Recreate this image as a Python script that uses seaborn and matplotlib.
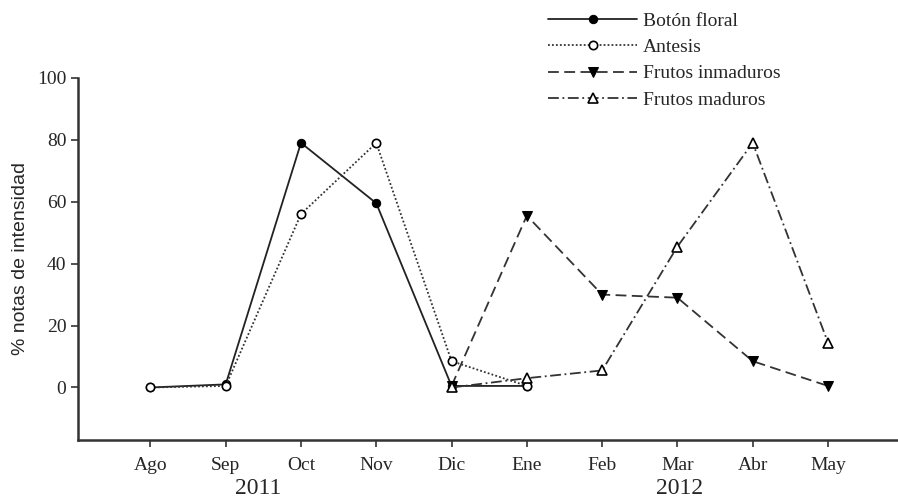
import seaborn as sns
import matplotlib.pyplot as plt

meses = ['Ago', 'Sep', 'Oct', 'Nov', 'Dic', 'Ene', 'Feb', 'Mar', 'Abr', 'May']
x = list(range(len(meses)))

# valores (% de notas de intensidad)
boton_floral = [0, 1, 79, 59.5, 0.5, 0.5]
antesis = [0, 0.5, 56, 79, 8.5, 0.5]
frutos_inmaduros = [0.5, 55.5, 30, 29, 8.5, 0.5]
frutos_maduros = [0, 3, 5.5, 45.5, 79, 14.5]

sns.set_style('ticks')
plt.rcParams['font.family'] = ['Liberation Serif', 'DejaVu Serif']

fig = plt.figure(figsize=(8.98, 4.99), dpi=100)
ax = fig.add_axes([0.087, 0.118, 0.913, 0.726])

lw = 1.3
sns.lineplot(x=x[:6], y=boton_floral, ax=ax, color='#222222', lw=lw,
             marker='o', ms=6, mfc='black', mec='black', label='Botón floral')
sns.lineplot(x=x[:6], y=antesis, ax=ax, color='#333333', lw=lw, linestyle=(0, (1, 1.2)),
             marker='o', ms=6, mfc='white', mec='black', mew=1.2, label='Antesis')
sns.lineplot(x=x[4:], y=frutos_inmaduros, ax=ax, color='#333333', lw=lw, linestyle=(0, (6, 3)),
             marker='v', ms=6.5, mfc='black', mec='black', label='Frutos inmaduros')
sns.lineplot(x=x[4:], y=frutos_maduros, ax=ax, color='#333333', lw=lw, linestyle=(0, (6, 2, 1, 2)),
             marker='^', ms=6.5, mfc='white', mec='black', mew=1.2, label='Frutos maduros')

ax.set_xlim(-0.96, 9.93)
ax.set_ylim(-17, 100)
ax.set_xticks(x)
ax.set_xticklabels(meses, fontsize=14)
ax.set_yticks([0, 20, 40, 60, 80, 100])
ax.set_yticklabels(['0', '20', '40', '60', '80', '100'], fontsize=14)
ax.tick_params(axis='both', length=5, width=1.2, color='#333333')
ax.tick_params(axis='x', pad=7)
sns.despine(ax=ax)
for s in ['left', 'bottom']:
    ax.spines[s].set_linewidth(1.8)
    ax.spines[s].set_color('#333333')

ax.set_ylabel('% notas de intensidad', fontsize=14, family='Liberation Sans', labelpad=6)

fig.text(258 / 898, 1 - 488 / 499, '2011', fontsize=17, ha='center', va='center')
fig.text(680 / 898, 1 - 488 / 499, '2012', fontsize=17, ha='center', va='center')

ax.get_legend().remove()
handles, labels = ax.get_legend_handles_labels()
fig.legend(handles, labels, loc='upper left', bbox_to_anchor=(548 / 898, 1 - 12 / 499),
           frameon=False, borderpad=0, borderaxespad=0, handlelength=4.6,
           handletextpad=0.3, labelspacing=0.45, fontsize=14)

fig.savefig('out.png', dpi=100)
